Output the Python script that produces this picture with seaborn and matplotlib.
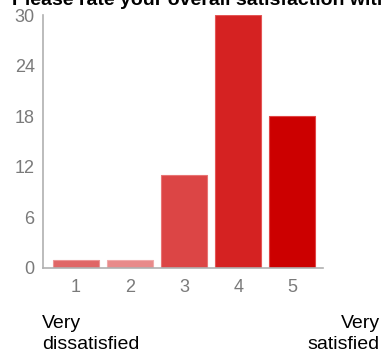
import matplotlib
matplotlib.use("Agg")
import matplotlib.pyplot as plt
import seaborn as sns
import pandas as pd

title = "Please rate your overall satisfaction with"
categories = ["1", "2", "3", "4", "5"]
counts = [1, 1, 11, 30, 18]
bar_colors = ["#e06666", "#e88a8a", "#dc4545", "#d52222", "#cc0000"]
edge_colors = ["#ec9494", "#f0aaaa", "#e87474", "#e45656", "#e04545"]
y_ticks = [0, 6, 12, 18, 24, 30]
left_label = "Very\ndissatisfied"
right_label = "Very\nsatisfied"

sns.set_theme(style="white")
plt.rcParams["font.family"] = ["Liberation Sans", "DejaVu Sans"]

W, H = 385, 358
fig = plt.figure(figsize=(W / 100, H / 100), dpi=100)
ax = fig.add_axes([43 / W, 1 - 268 / H, (323 - 43) / W, (268 - 15) / H])

df = pd.DataFrame({"rating": categories, "count": counts})
sns.barplot(data=df, x="rating", y="count", hue="rating", palette=bar_colors,
            legend=False, width=0.85, ax=ax, saturation=1)
for patch, ec in zip(ax.patches, edge_colors):
    patch.set_edgecolor(ec)
    patch.set_linewidth(0.8)

ax.set_xlim(-0.61, 4.57)
ax.set_ylim(0, 30)
ax.set_yticks(y_ticks)
ax.set_xlabel("")
ax.set_ylabel("")
for s in ["top", "right"]:
    ax.spines[s].set_visible(False)
for s in ["left", "bottom"]:
    ax.spines[s].set_color("#b0b0b0")
    ax.spines[s].set_linewidth(1.2)
ax.tick_params(axis="both", which="both", direction="out", length=4, width=1,
               color="#b0b0b0", labelcolor="#7a7a7a", labelsize=13, pad=2)
ax.tick_params(axis="x", pad=4)

fig.text(12 / W, 1 - 5 / H, title, fontsize=14, fontweight="bold", color="black",
         ha="left", va="baseline")
fig.text(42 / W, 1 - 315 / H, left_label, fontsize=14, color="black",
         ha="left", va="top", linespacing=1.3)
fig.text(380 / W, 1 - 315 / H, right_label, fontsize=14, color="black",
         ha="right", va="top", linespacing=1.3, multialignment="right")

fig.savefig("out.png", dpi=100)
